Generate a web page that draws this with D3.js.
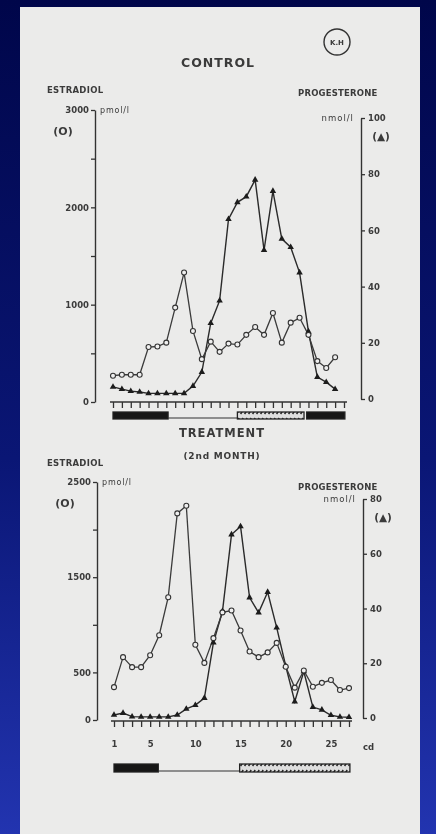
<!DOCTYPE html>
<html>
<head>
<meta charset="utf-8">
<script src="https://cdn.jsdelivr.net/npm/d3@7"></script>
<style>
  html, body { margin: 0; padding: 0; background: #000a4c; }
  svg { display: block; }
  text { font-family: "DejaVu Sans", sans-serif; fill: #3a3a3a; }
</style>
</head>
<body>
<script>
// ---- Data -------------------------------------------------------------
// Control cycle (cycle day 1..26)
const ctrlDays = d3.range(1, 27);
const ctrlEstradiol = [270, 280, 280, 280, 565, 570, 610, 970, 1330, 730, 440, 620, 515,
                       600, 590, 690, 770, 690, 915, 610, 815, 865, 690, 420, 350, 460];
const ctrlProgesterone = [4.3, 3.5, 2.8, 2.5, 2, 2, 2, 2, 2, 4.6, 9.6, 27, 35,
                          64, 70, 72, 78, 53, 74, 57, 54, 45, 24, 7.8, 6, 3.5];

// Treatment, 2nd month (cycle day 1..27)
const trtDays = d3.range(1, 28);
const trtEstradiol = [345, 660, 555, 555, 680, 890, 1290, 2170, 2250, 790, 600, 860, 1130,
                      1150, 940, 720, 660, 710, 810, 560, 340, 520, 350, 390, 420, 315, 335];
const trtProgesterone = [1.1, 1.8, 0.5, 0.4, 0.4, 0.4, 0.4, 1.1, 3.3, 4.7, 7.3, 27.5, 39,
                         67, 70, 44, 38.5, 46, 33, 19, 6, 17, 4, 3, 1, 0.4, 0.3];

// Cycle phase bars (cycle days)
const ctrlPhases = [
  { from: 1, to: 7.2, kind: "solid" },
  { from: 7.2, to: 15, kind: "line" },
  { from: 15, to: 22.5, kind: "hatch" },
  { from: 22.8, to: 27.1, kind: "solid" }
];
const trtPhases = [
  { from: 1, to: 5.9, kind: "solid" },
  { from: 5.9, to: 14.9, kind: "line" },
  { from: 14.9, to: 27.1, kind: "hatch" }
];

// Axis ticks
const ctrlEstTicks = [0, 500, 1000, 1500, 2000, 2500, 3000];
const ctrlEstLabels = [0, 1000, 2000, 3000];
const ctrlProTicks = [0, 20, 40, 60, 80, 100];
const trtEstTicks = [0, 500, 1000, 1500, 2000, 2500];
const trtEstLabels = [0, 500, 1500, 2500];
const trtProTicks = [0, 20, 40, 60, 80];
const dayLabels = [1, 5, 10, 15, 20, 25];

// ---- Canvas -----------------------------------------------------------
const W = 436, H = 834;
const svg = d3.select("body").append("svg").attr("width", W).attr("height", H);
const defs = svg.append("defs");

const bg = defs.append("linearGradient").attr("id", "bg")
  .attr("x1", 0).attr("y1", 0).attr("x2", 0).attr("y2", 1);
bg.append("stop").attr("offset", "0%").attr("stop-color", "#00064a");
bg.append("stop").attr("offset", "55%").attr("stop-color", "#0a1675");
bg.append("stop").attr("offset", "100%").attr("stop-color", "#2234b0");

const hatch = defs.append("pattern").attr("id", "hatch")
  .attr("patternUnits", "userSpaceOnUse").attr("width", 4).attr("height", 8);
hatch.append("rect").attr("width", 4).attr("height", 8).attr("fill", "#dedede");
hatch.append("line").attr("x1", 0.6).attr("y1", 6).attr("x2", 3.2).attr("y2", 2)
  .attr("stroke", "#1e1e1e").attr("stroke-width", 1.4);

const soft = defs.append("filter").attr("id", "soft");
soft.append("feGaussianBlur").attr("stdDeviation", 0.35);

svg.append("rect").attr("width", W).attr("height", H).attr("fill", "url(#bg)");
svg.append("rect").attr("x", 20).attr("y", 7).attr("width", 400).attr("height", 827)
  .attr("fill", "#ebebea");

const ink = svg.append("g").attr("filter", "url(#soft)");

// ---- Panel drawing ----------------------------------------------------
function panel(cfg) {
  const g = ink.append("g");
  const x = d3.scaleLinear().domain([1, 27]).range(cfg.xRange);
  const yE = d3.scaleLinear().domain(cfg.estDomain).range(cfg.estRange);
  const yP = d3.scaleLinear().domain(cfg.proDomain).range(cfg.proRange);

  // left (estradiol) axis
  const la = g.append("g").attr("transform", `translate(${cfg.leftX},0)`)
    .call(d3.axisLeft(yE).tickValues(cfg.estTicks).tickSize(4).tickSizeOuter(0).tickPadding(2)
      .tickFormat(d => cfg.estLabels.includes(d) ? d : ""));
  // right (progesterone) axis
  const ra = g.append("g").attr("transform", `translate(${cfg.rightX},0)`)
    .call(d3.axisRight(yP).tickValues(cfg.proTicks).tickSize(4).tickSizeOuter(0).tickPadding(3));
  // day axis
  const xa = g.append("g").attr("transform", `translate(0,${cfg.xAxisY})`)
    .call(d3.axisBottom(x).tickValues(d3.range(1, 28)).tickSize(6).tickSizeOuter(0)
      .tickPadding(14).tickFormat(d => cfg.dayLabels.includes(d) ? d : ""));
  [la, ra, xa].forEach(a => {
    a.selectAll("path").attr("stroke", "#333").attr("stroke-width", 1.4);
    a.selectAll("line").attr("stroke", "#333").attr("stroke-width", 1.3);
    a.selectAll("text").attr("font-size", 8.5).attr("font-weight", "bold")
      .attr("fill", "#4a4a4a").style("font-family", "DejaVu Sans, sans-serif");
  });
  xa.select("path").attr("d", `M${x(1) - 3},0H${x(27) + 3}`);

  // phase bars
  const by = cfg.barY, bh = cfg.barH;
  cfg.phases.forEach(p => {
    if (p.kind === "line") {
      g.append("line").attr("x1", x(p.from)).attr("x2", x(p.to))
        .attr("y1", by + bh - 1).attr("y2", by + bh - 1)
        .attr("stroke", "#333").attr("stroke-width", 1.2);
    } else {
      g.append("rect").attr("x", x(p.from)).attr("y", by)
        .attr("width", x(p.to) - x(p.from)).attr("height", bh)
        .attr("fill", p.kind === "solid" ? "#151515" : "url(#hatch)")
        .attr("stroke", "#222").attr("stroke-width", 1.3);
    }
  });

  // series lines
  const lineE = d3.line().x((d, i) => x(cfg.days[i])).y(d => yE(d));
  const lineP = d3.line().x((d, i) => x(cfg.days[i])).y(d => yP(d));
  g.append("path").datum(cfg.pro).attr("d", lineP)
    .attr("fill", "none").attr("stroke", "#2a2a2a").attr("stroke-width", 1.4);
  g.append("path").datum(cfg.est).attr("d", lineE)
    .attr("fill", "none").attr("stroke", "#3a3a3a").attr("stroke-width", 1.3);

  // progesterone markers (filled triangles)
  g.selectAll(null).data(cfg.pro).join("path")
    .attr("transform", (d, i) => `translate(${x(cfg.days[i])},${yP(d)})`)
    .attr("d", d3.symbol(d3.symbolTriangle, 18))
    .attr("fill", "#1a1a1a");
  // estradiol markers (open circles)
  g.selectAll(null).data(cfg.est).join("circle")
    .attr("cx", (d, i) => x(cfg.days[i])).attr("cy", d => yE(d)).attr("r", 2.5)
    .attr("fill", "#efefef").attr("stroke", "#333").attr("stroke-width", 1.1);

  // unit labels
  g.append("text").attr("x", cfg.leftX + 5).attr("y", yE(cfg.estDomain[1]) + 3)
    .attr("font-size", 8).attr("letter-spacing", 0.8).text("pmol/l");
  g.append("text").attr("x", cfg.leftX - 32).attr("y", yE(cfg.estDomain[1]) + 25)
    .attr("font-size", 11).attr("font-weight", "bold").attr("text-anchor", "middle").text("(O)");
  g.append("text").attr("x", cfg.rightX - 7).attr("y", yP(cfg.proDomain[1]) + 3)
    .attr("font-size", 8.5).attr("letter-spacing", 1).attr("text-anchor", "end").text("nmol/l");
  g.append("text").attr("x", cfg.rightX + 20).attr("y", yP(cfg.proDomain[1]) + 22)
    .attr("font-size", 10.5).attr("font-weight", "bold").attr("text-anchor", "middle").text("(▲)");
  g.append("text").attr("x", 47).attr("y", cfg.estTitleY)
    .attr("font-size", 8.5).attr("font-weight", "bold").attr("letter-spacing", 0.3).text("ESTRADIOL");
  g.append("text").attr("x", 298).attr("y", cfg.proTitleY)
    .attr("font-size", 8.5).attr("font-weight", "bold").attr("letter-spacing", 0.2).text("PROGESTERONE");
  return { x };
}

panel({
  days: ctrlDays, est: ctrlEstradiol, pro: ctrlProgesterone, phases: ctrlPhases,
  xRange: [113, 344], estDomain: [0, 3000], estRange: [402, 110],
  proDomain: [0, 100], proRange: [399, 118],
  estTicks: ctrlEstTicks, estLabels: ctrlEstLabels, proTicks: ctrlProTicks,
  leftX: 95, rightX: 361, xAxisY: 402, dayLabels: [],
  barY: 412, barH: 7, estTitleY: 93, proTitleY: 96
});

panel({
  days: trtDays, est: trtEstradiol, pro: trtProgesterone, phases: trtPhases,
  xRange: [114, 349], estDomain: [0, 2500], estRange: [720, 482],
  proDomain: [0, 80], proRange: [718, 499],
  estTicks: trtEstTicks, estLabels: trtEstLabels, proTicks: trtProTicks,
  leftX: 97, rightX: 363, xAxisY: 721, dayLabels: dayLabels,
  barY: 764, barH: 8, estTitleY: 466, proTitleY: 490
});

// titles
ink.append("text").attr("x", 218).attr("y", 67).attr("text-anchor", "middle")
  .attr("font-size", 12.5).attr("font-weight", "bold").attr("letter-spacing", 1).text("CONTROL");
ink.append("circle").attr("cx", 337).attr("cy", 42).attr("r", 13)
  .attr("fill", "none").attr("stroke", "#333").attr("stroke-width", 1.4);
ink.append("text").attr("x", 337).attr("y", 45).attr("text-anchor", "middle")
  .attr("font-size", 7).attr("font-weight", "bold").text("K.H");
ink.append("text").attr("x", 222).attr("y", 437).attr("text-anchor", "middle")
  .attr("font-size", 11.5).attr("font-weight", "bold").attr("letter-spacing", 1).text("TREATMENT");
ink.append("text").attr("x", 222).attr("y", 459).attr("text-anchor", "middle")
  .attr("font-size", 9).attr("font-weight", "bold").attr("letter-spacing", 0.8).text("(2nd MONTH)");
ink.append("text").attr("x", 363).attr("y", 750)
  .attr("font-size", 8.5).attr("font-weight", "bold").attr("fill", "#444").text("cd");
</script>
</body>
</html>
